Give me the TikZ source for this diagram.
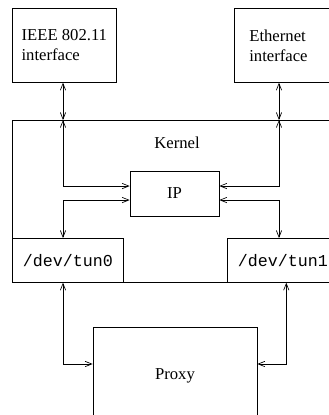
\documentclass[tikz,border=0pt]{standalone}
\usepackage{fontspec}
\setmainfont{Liberation Serif}
\setmonofont{Liberation Mono}
\usetikzlibrary{arrows.meta}

\tikzset{
  box/.style={draw, anchor=north west, align=left, font=\fontsize{12.5}{15}\selectfont},
  devbox/.style={box, minimum width=83.25pt, minimum height=33pt, font=\fontsize{12.5}{15}\ttfamily},
  link/.style={{Straight Barb[length=5pt,width=4pt]}-{Straight Barb[length=5pt,width=4pt]}}
}

\begin{document}
\begin{tikzpicture}[x=0.75pt, y=-0.75pt, line width=0.5pt]
		
		\useasboundingbox (0,0) rectangle (329,415);
		
		% Interfaces
		\node[box, minimum width=78pt, minimum height=55.5pt] (ieee) at (12,8) {IEEE 802.11\\interface};
		\node[box, minimum height=55.5pt, text width=52.5pt, inner xsep=11.25pt] (eth) at (234,8) {Ethernet\\interface};
		
		% Kernel
		\node[draw, anchor=north west, minimum width=243pt, minimum height=121.5pt] (kernel) at (12,120) {};
		\node[font=\fontsize{12.5}{15}\selectfont] (kname) at (177,143) {Kernel};
		\coordinate (kl) at (63,120);
		\coordinate (kr) at (279,120);
		
		% IP und Tunnel
		\node[draw, minimum width=66.75pt, minimum height=33.75pt, font=\fontsize{12.5}{15}\selectfont] (ip) at (174.5,193.5) {IP};
		\node[devbox] (tun0) at (12,238) {/dev/tun0};
		\node[devbox] (tun1) at (227,238) {/dev/tun1};
		
		% Proxy
		\node[draw, minimum width=123pt, minimum height=73.5pt, font=\fontsize{12.5}{15}\selectfont] (proxy) at (175,376) {Proxy};
		
		% Verbindungen nach aussen
		\draw[link] (ieee.south -| kl) -- (kl);
		\draw[link] (eth.south -| kr) -- (kr);
		
		% Verbindungen zum IP
		\draw[link] (kl) |- ([yshift=5.6pt]ip.west);
		\draw[link] (kr) |- ([yshift=5.6pt]ip.east);
		\draw[link] ([yshift=-4.9pt]ip.west) -| (tun0.north -| kl);
		\draw[link] ([yshift=-4.9pt]ip.east) -| (tun1.north -| kr);
		
		% Tunnel zum Proxy
		\draw[link] (tun0.south -| kl) |- ([yshift=9pt]proxy.west);
		\draw[link] ([xshift=2.6pt]tun1.south) |- ([yshift=9pt]proxy.east);
		
	\end{tikzpicture}
\end{document}
